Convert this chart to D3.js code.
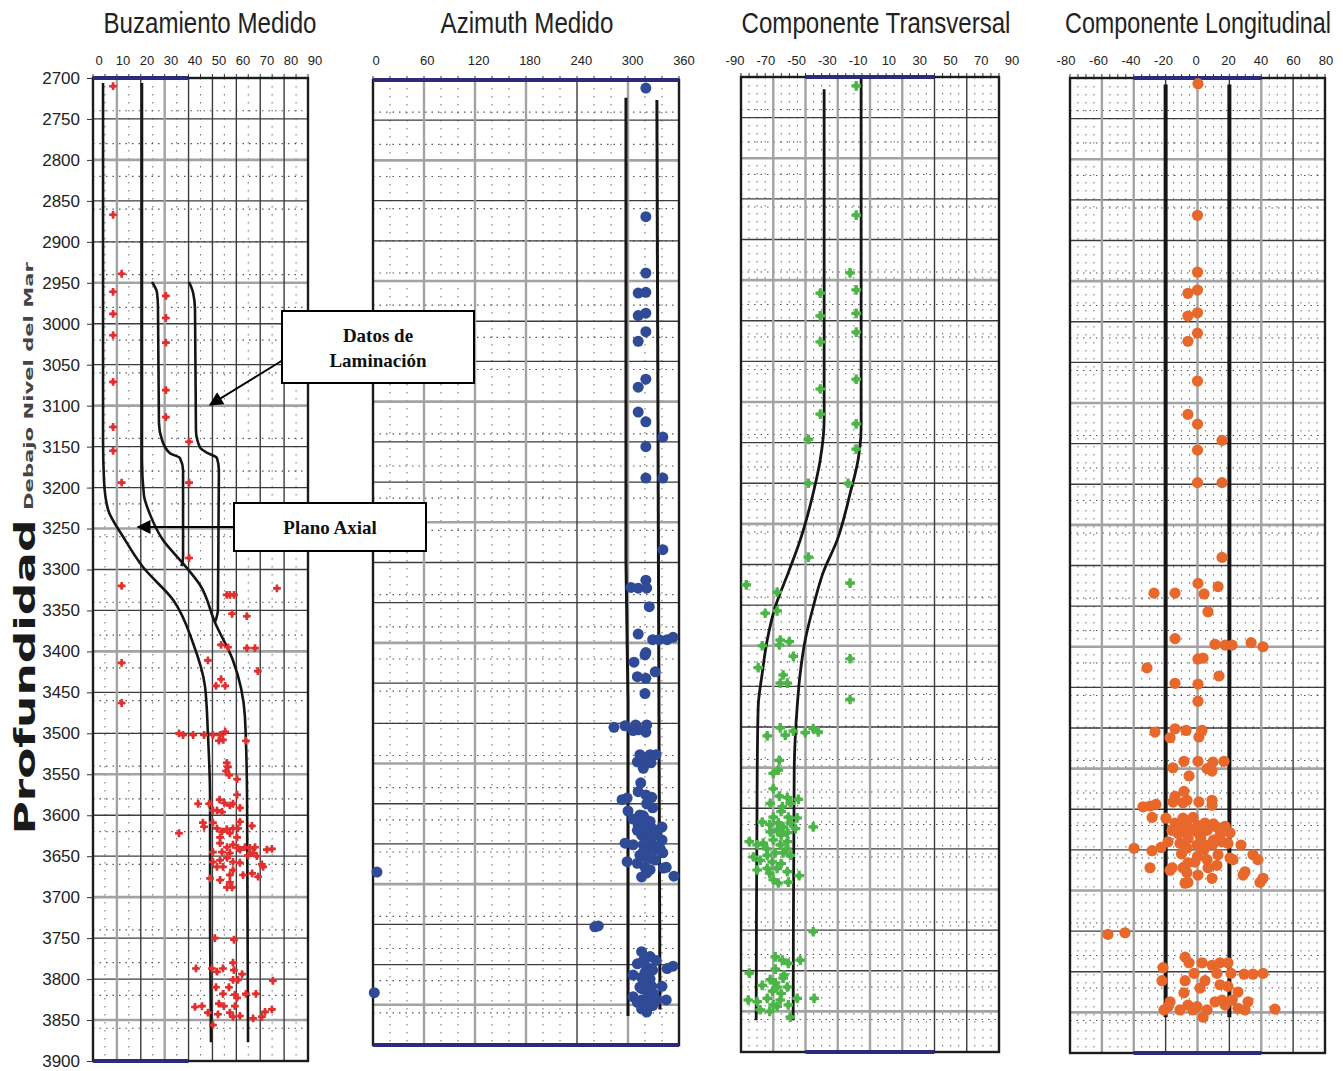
<!DOCTYPE html>
<html>
<head>
<meta charset="utf-8">
<title>Buzamiento, Azimuth y Componentes</title>
<script src="https://cdnjs.cloudflare.com/ajax/libs/d3/7.8.5/d3.min.js"></script>
<style>
    body { margin: 0; background: #fff; }
    svg { display: block; }
    .title { font-family: "Liberation Sans Narrow", "Arial Narrow", "Liberation Sans", sans-serif; font-size: 29px; fill: #222; }
    .toplab { font-family: "Liberation Sans Narrow", "Arial Narrow", "Liberation Sans", sans-serif; font-size: 13px; fill: #222; }
    .depth text { font-family: "Liberation Sans", Arial, sans-serif; font-size: 17px; fill: #222; }
    .note { font-family: "Liberation Serif", "DejaVu Serif", serif; font-weight: bold; font-size: 19px; fill: #111; }
</style>
</head>
<body>
<div id="chart"></div>
<script>
// depth (m) and value pairs
var depthTicks = d3.range(2700, 3901, 50);

var buzTicks = [0, 10, 20, 30, 40, 50, 60, 70, 80, 90];
var azTicks = [0, 60, 120, 180, 240, 300, 360];
var transTicks = [-90, -70, -50, -30, -10, 10, 30, 50, 70, 90];
var longTicks = [-80, -60, -40, -20, 0, 20, 40, 60, 80];

var buzPoints = [
    [2710,8.4],[2867,8.4],[2939,12],[2961,8.4],[2988,8.4],[3014,8.4],[3071,8.4],[3126,8.4],[3155,8.4],[3194,12],
    [2966,30.5],[2993,30.5],[3023,30.5],[3081,30.5],[3114,30.5],
    [3144,40.2],[3194,40.2],[3286,40.2],
    [3320,12],[3323,77],[3331,56],[3331,57.3],[3331,59],[3354,58.2],[3357,64.4],
    [3392,53.6],[3395,56.5],[3396,64.4],[3396,67.8],[3411,48.1],[3414,12],[3424,69],[3434,53.6],[3442,51.5],[3442,55.3],[3463,12],
    [3500,36],[3502,37.7],[3502,41.9],[3502,46.5],[3502,50.2],[3502,53.2],[3498,55.3],[3509,52.7],[3508,54.4],[3509,64],
    [3536,56],[3541,56.5],[3546,55.7],[3551,57],[3556,60.3],[3575,60.3],
    [3586,44],[3586,48.6],[3581,53],[3585,55],[3588,57.3],[3586,58.6],[3591,61.5],[3594,51.9],[3596,54],[3594,50.2],
    [3609,46],[3614,46.5],[3609,50.2],[3616,51.9],[3620,54],[3617,56],[3616,58.6],[3616,60.7],[3608,61.5],[3613,66.5],
    [3622,36],[3627,53.2],[3622,57.3],[3627,60.3],
    [3634,53.2],[3639,56.1],[3636,58.6],[3640,60.7],[3639,63.6],[3640,65.7],[3639,67.8],[3642,72.8],[3641,74.9],
    [3645,50.2],[3645,54],[3646,57.3],[3642,61.5],[3646,67],[3649,64.9],[3650,68.6],[3660,70.7],[3663,71.2],
    [3655,53.2],[3652,56.1],[3657,58.6],[3657,50.2],[3663,51.9],[3663,54.4],[3667,58.6],[3658,61.5],[3673,57.3],
    [3679,53.2],[3682,57.3],[3688,58.2],[3688,56.1],[3673,62.8],[3671,66.6],[3675,69.1],[3677,49],
    [3750,51],[3752,59],
    [3787,43.1],[3787,49.8],[3791,51.9],[3787,54.4],[3780,58.6],[3789,59],[3794,62.4],[3801,58.6],[3801,60.7],
    [3810,51.5],[3810,56.9],[3818,54.4],[3819,59.4],[3823,60.3],[3818,64],[3818,68.2],[3802,75.3],
    [3834,42.7],[3833,45.6],[3830,52.7],[3833,54.8],[3833,59.4],[3841,48.1],[3843,52.3],[3841,57.3],[3846,58.6],
    [3845,61.5],[3848,67],[3846,70.7],[3840,72],[3837,74.9],[3856,50.2]
];
var buzAxialLeft = [[2706,4.2],[3142,4.2],[3191,4.6],[3227,6.3],[3260,12.6],[3297,20.9],[3337,33.5],[3390,41.9],[3443,46.9],[3500,48.1],[3581,49],[3728,49],[3877,49.4]];
var buzAxialRight = [[2706,20.5],[3166,20.5],[3209,21.3],[3233,23.9],[3264,29.3],[3292,37.5],[3319,44.8],[3365,51.1],[3411,58.6],[3480,63.6],[3581,64.5],[3877,64.9]];
var buzLamLeft = [[2949,24.7],[2962,26.8],[2980,27.2],[3121,27.6],[3142,28.9],[3158,32.2],[3164,36.4],[3179,37.7],[3286,37.7],[3296,37]];
var buzLamRight = [[2949,40.2],[2962,41.9],[2983,42.7],[3130,43.1],[3151,44.8],[3158,48.1],[3164,51.9],[3179,52.7],[3349,52.3],[3364,51.1]];

var azPoints = [
    [2710,321],[2870,321],[2940,321],[2965,312],[2964,321],[2993,312],[2990,321],[3013,321],[3025,312],[3072,321],
    [3082,312],[3113,312],[3125,321],[3144,341],[3156,321],[3195,321],[3195,341],[3284,341],
    [3322,321],[3332,322],[3331,303.5],[3332,312],[3355,325],[3389,312],[3396,329],[3396,336.5],[3396,346],[3393,353],
    [3412,321],[3415,320],[3424,307],[3436,332],[3442,311],[3444,321],[3463,320],
    [3505,283.5],[3503,296.5],[3502,309],[3508,312],[3502,322],[3511,321],[3509,306],
    [3539,314],[3539,326],[3539,333],[3548,311],[3548,321],[3556,318],[3549,327],
    [3574,315],[3585,312],[3589,321],[3592,328],[3595,293],[3593,299],
    [3609,300],[3614,314],[3619,320],[3622,326],[3627,312],[3631,322],[3631,329],[3629,340],[3639,316],[3644,326],
    [3649,296.5],[3651,306],[3651,318],[3651,329],[3645,340],[3657,322],[3657,332],[3661,341],[3664,314],[3668,326],
    [3672,299],[3674,311],[3679,320],[3682,326],[3680,342],[3679,345],[3691,316],[3690,354],[3619,306],[3633,311],
    [3637,334],[3656,338],[3615,318],[3625,318],[3635,322],[3640,330],[3648,322],[3660,318],[3666,320],[3670,332],
    [3686,322],[3600,322],[3605,329],
    [3685,4.7],[3753,261],[3752,265],
    [3784,316],[3790,326],[3799,311],[3803,322],[3807,329],[3805,346],[3802,353],[3813,306],[3816,316],[3818,326],
    [3824,322],[3828,314],[3827,328],[3827,340],[3840,306],[3844,316],[3840,326],[3844,334],[3844,345],[3848,318],
    [3851,329],[3859,322],[3847,311],[3795,318],[3810,320],[3820,318],[3833,322],[3836,330],[3830,316],[3855,316],
    [3795,333],
    [3835,1.5]
];
var azLeft = [[2722,297.6],[3297,297.6],[3471,300],[3864,300]];
var azRight = [[2725,334],[3856,337.6]];

var transPoints = [
    [2711,-9.6],[2870,-9.6],[2941,-13.9],[2962,-9.6],[2966,-34.7],[2991,-9.6],[2994,-34.7],[3014,-9.6],[3026,-34.7],
    [3072,-9.6],[3084,-34.7],[3115,-34.7],[3127,-9.6],[3146,-43],[3158,-9.6],[3200,-43],[3200,-15.3],[3291,-43],
    [3325,-86.3],[3323,-13.9],[3334,-64.8],[3360,-73.1],[3357,-64.8],[3400,-75.2],[3393,-62.6],[3399,-63.3],
    [3395,-56.3],[3413,-53.5],[3416,-13.9],[3427,-78],[3436,-60.6],[3446,-62.6],[3446,-57.7],[3466,-13.9],
    [3511,-71.7],[3501,-62.6],[3510,-59.1],[3505,-53.5],[3507,-45.2],[3502,-39.6],[3506,-36.1],
    [3541,-63.3],[3553,-64],[3557,-67.5],[3576,-67.5],[3585,-63.3],[3587,-57.7],[3594,-55.6],[3589,-50],[3594,-69.6],[3598,-61.2],
    [3611,-67.5],[3611,-57],[3612,-50.8],[3617,-75.2],[3618,-64],[3623,-60.6],[3618,-55.6],[3623,-39.6],[3629,-69.6],
    [3627,-64.8],[3630,-57.7],[3641,-84.2],[3645,-78.7],[3643,-74.5],[3639,-67.5],[3645,-62.6],[3641,-57.7],[3660,-81.4],
    [3658,-71.7],[3655,-66.1],[3655,-60.6],[3658,-55.6],[3676,-78.7],[3674,-71.7],[3674,-64.8],[3678,-57.7],[3683,-49.4],
    [3688,-67.5],[3691,-57],[3692,-64],[3664,-76.6],[3666,-68.2],
    [3620,-70],[3633,-62],[3650,-72],[3650,-58],[3668,-62],[3680,-70],[3625,-52],[3604,-62],
    [3752,-39.6],
    [3783,-66.1],[3787,-61.2],[3791,-57],[3787,-48.7],[3803,-84.2],[3818,-75.2],[3811,-69.6],[3820,-64.8],[3809,-60.6],
    [3820,-57.7],[3836,-84.9],[3838,-78.7],[3834,-71.7],[3842,-67.5],[3836,-62.6],[3842,-57],[3834,-50.8],[3834,-39],
    [3848,-76.6],[3844,-64.8],[3857,-55.6],[3798,-66],[3805,-60],[3825,-68],[3828,-62],[3815,-66],[3850,-70]
];
var transLeft = [[2715,-32],[3122,-32],[3171,-34.7],[3212,-39.6],[3270,-48.7],[3310,-57],[3352,-66.1],[3393,-71.7],[3434,-75.2],[3475,-78],[3557,-78.7],[3861,-79.4]];
var transRight = [[2702,-6.2],[3131,-6.2],[3171,-8.3],[3212,-13.8],[3270,-22.9],[3310,-32.7],[3352,-39.6],[3393,-45.2],[3434,-48.7],[3475,-50.8],[3557,-52.9],[3861,-53.6]];

var longPoints = [
    [2707,0.3],[2869,0],[2939,0],[2965,-6],[2961,0],[2993,-6],[2989,0],[3014,0],[3024,-6],[3073,0],[3114,-6],[3126,0],
    [3146,15.4],[3158,0],[3198,0],[3198,15.4],[3290,15.4],
    [3322,0.3],[3326,12.9],[3334,-27.3],[3334,-14.1],[3335,4.1],[3357,6.6],[3390,-14.1],[3397,11],[3398,17.3],[3398,21.7],
    [3395,33.6],[3400,41.1],[3415,0.3],[3414,3.5],[3426,-31.7],[3436,13.5],[3445,-14.1],[3446,0.3],[3467,0.3],
    [3505,-26.7],[3501,-14.1],[3512,-17.2],[3503,-7.2],[3503,2.8],[3511,0.9],
    [3541,-8.5],[3541,0.3],[3542,9.7],[3541,16.6],[3549,-15.4],[3550,6],[3553,9.1],[3559,-5.3],
    [3578,-8.5],[3584,-14.1],[3591,-15.4],[3592,-9.1],[3589,-6.6],[3591,0.9],[3589,9.1],[3595,9.1],
    [3597,-34.2],[3596,-29.8],[3594,-26],[3610,-28.5],
    [3611,-19.8],[3617,-14.1],[3611,-9.1],[3610,-2.8],[3626,-16],[3622,-11],[3620,-6.6],[3620,0.3],[3617,4.7],[3621,7.9],
    [3622,12.2],[3621,17.3],[3629,20.4],[3626,6],[3628,-0.3],[3632,14.1],[3629,-6.6],
    [3648,-39.8],[3651,-28.5],[3647,-22.9],[3640,-18.5],[3642,-11],[3636,-5.9],[3648,-6.6],[3644,-0.3],[3644,6],[3643,9.7],
    [3640,15.4],[3642,19.1],[3644,27.3],
    [3656,34.8],[3662,37.9],[3660,20.4],[3662,22.3],[3656,12.9],[3662,6],[3665,-1.6],[3666,-6],[3672,-9.1],[3675,-17.2],
    [3672,-15.9],[3672,-29.8],[3672,6.6],[3681,0.3],[3685,9.1],[3678,-6.6],[3691,-7.8],[3690,-6],[3681,28.6],[3677,29.8],
    [3690,39.2],[3685,41.1],[3669,12.2],
    [3630,-12],[3635,2],[3638,10],[3655,-10],[3658,0],[3650,4],[3625,-4],[3618,10],
    [3754,-56.2],[3752,-45.5],
    [3782,-7.8],[3789,-5.3],[3789,2.8],[3792,9.1],[3789,14.1],[3789,19.1],[3795,-21.6],[3802,12.2],[3802,21],[3803,29.2],
    [3803,34.8],[3802,41.1],[3811,-22.3],[3811,-7.8],[3802,-2.2],[3811,4.7],[3816,14.1],[3818,19.1],[3820,1.6],[3825,25.4],
    [3826,-8.5],[3837,-17.2],[3843,-18.5],[3847,-11],[3841,-6],[3843,-0.3],[3847,6],[3837,11],[3835,15.4],[3835,21.7],
    [3845,25.4],[3837,31.7],[3847,29.8],[3846,48.6],[3847,-21],[3856,3.5],[3841,17.3],[3847,-2.8]
];
var longLeft = [[2708,-20],[3856,-20]];
var longRight = [[2708,20],[3856,20]];

// panel layout
var panels = [
    {title: "Buzamiento Medido", titleX: 210, titleW: 213, left: 93, right: 308, top: 78, bottom: 1061,
     domain: [0, 90], major: d3.range(0, 91, 10), minor: 5, tickStep: 5, grayLines: [10, 30],
     ticks: buzTicks, labelRange: [99, 315], band: [0, 40],
     points: buzPoints, shape: "cross", size: 34, dot: 2.2, color: "#e3302f",
     lines: [buzAxialLeft, buzAxialRight, buzLamLeft, buzLamRight], lineWidth: 2.6, curve: d3.curveMonotoneY},
    {title: "Azimuth Medido", titleX: 527, titleW: 173, left: 373, right: 679, top: 80, bottom: 1045,
     domain: [0, 360], major: d3.range(0, 361, 60), minor: 20, tickStep: 20, grayLines: [60, 120, 180, 300],
     ticks: azTicks, labelRange: [376, 684], band: [0, 360],
     points: azPoints, shape: "circle", size: 5.5, color: "#2f4a96",
     lines: [azLeft, azRight], lineWidth: 3, curve: d3.curveLinear},
    {title: "Componente Transversal", titleX: 876, titleW: 269, left: 741, right: 999, top: 77, bottom: 1052,
     domain: [-90, 90], major: d3.range(-90, 90.1, 22.5), minor: 5.625, tickStep: 5.625, grayLines: [-67.5, -45, -22.5, 0, 22.5],
     ticks: transTicks, labelRange: [735, 1012], band: [-45, 45],
     points: transPoints, shape: "cross", size: 52, dot: 3, color: "#4cb548",
     lines: [transLeft, transRight], lineWidth: 2.8, curve: d3.curveMonotoneY},
    {title: "Componente Longitudinal", titleX: 1198, titleW: 266, left: 1070, right: 1325, top: 78, bottom: 1053,
     domain: [-80, 80], major: d3.range(-80, 81, 20), minor: 5, tickStep: 5, grayLines: [-60, -40, 0, 40],
     ticks: longTicks, labelRange: [1066, 1326], band: [-40, 40],
     points: longPoints, shape: "circle", size: 5.6, color: "#e8672b",
     lines: [longLeft, longRight], lineWidth: 4, curve: d3.curveLinear}
];

var svg = d3.select("#chart")
  .append("svg")
    .attr("width", 1343)
    .attr("height", 1071);

svg.append("defs").append("marker")
    .attr("id", "arrow")
    .attr("viewBox", "0 0 10 10")
    .attr("refX", 9).attr("refY", 5)
    .attr("markerWidth", 20).attr("markerHeight", 14)
    .attr("markerUnits", "userSpaceOnUse")
    .attr("orient", "auto")
  .append("path")
    .attr("d", "M0,0 L10,5 L0,10 Z")
    .attr("fill", "#000");

// squeeze a text horizontally to a given width
function fitWidth(sel, w) {
    var natural = sel.node().getComputedTextLength();
    var k = natural > 0 ? w / natural : 1;
    sel.attr("transform", sel.attr("transform") + " scale(" + k + ",1)");
}

var scales = [];

panels.forEach(function(p, i) {
    var g = svg.append("g");
    var x = d3.scaleLinear().domain(p.domain).range([p.left, p.right]);
    var y = d3.scaleLinear().domain([2700, 3900]).range([p.top, p.bottom]);
    var xl = d3.scaleLinear().domain(p.domain).range(p.labelRange);
    scales.push({x: x, y: y});

    var isMajor = function(v) {
        return p.major.some(function(m) { return Math.abs(m - v) < 0.01; });
    };

    // dotted minor grid
    var minorX = d3.range(p.domain[0], p.domain[1] + 0.01, p.minor).filter(function(v) { return !isMajor(v); });
    g.selectAll(".mx").data(minorX).enter().append("line")
        .attr("x1", function(d) { return x(d); }).attr("x2", function(d) { return x(d); })
        .attr("y1", p.top).attr("y2", p.bottom)
        .attr("stroke", "#7a7a7a").attr("stroke-width", 1.1)
        .attr("stroke-dasharray", "1.5,6.5");
    g.selectAll(".my").data(d3.range(2740, 3900, 40)).enter().append("line")
        .attr("x1", p.left).attr("x2", p.right)
        .attr("y1", function(d) { return y(d); }).attr("y2", function(d) { return y(d); })
        .attr("stroke", "#555").attr("stroke-width", 1.2)
        .attr("stroke-dasharray", "1.5,5");

    // major grid
    g.selectAll(".gy").data(d3.range(2750, 3900, 50)).enter().append("line")
        .attr("x1", p.left).attr("x2", p.right)
        .attr("y1", function(d) { return y(d); }).attr("y2", function(d) { return y(d); })
        .attr("stroke", function(d) { return (d - 2800) % 150 === 0 ? "#a3a3a3" : "#3c3c3c"; })
        .attr("stroke-width", function(d) { return (d - 2800) % 150 === 0 ? 2.6 : 1.3; });
    g.selectAll(".gx").data(p.major.slice(1, -1)).enter().append("line")
        .attr("x1", function(d) { return x(d); }).attr("x2", function(d) { return x(d); })
        .attr("y1", p.top).attr("y2", p.bottom)
        .attr("stroke", function(d) { return p.grayLines.indexOf(d) >= 0 ? "#a3a3a3" : "#3c3c3c"; })
        .attr("stroke-width", function(d) { return p.grayLines.indexOf(d) >= 0 ? 2.4 : 1.4; });

    // small ticks above the frame
    g.selectAll(".tk").data(d3.range(p.domain[0], p.domain[1] + 0.01, p.tickStep)).enter().append("line")
        .attr("x1", function(d) { return x(d); }).attr("x2", function(d) { return x(d); })
        .attr("y1", p.top - 4).attr("y2", p.top)
        .attr("stroke", "#333").attr("stroke-width", 1);

    // frame
    g.append("rect")
        .attr("x", p.left).attr("y", p.top)
        .attr("width", p.right - p.left).attr("height", p.bottom - p.top)
        .attr("fill", "none").attr("stroke", "#1c1c1c").attr("stroke-width", 2.4);

    // blue band on top and bottom edges
    [p.top, p.bottom].forEach(function(yy) {
        g.append("line")
            .attr("x1", x(p.band[0])).attr("x2", x(p.band[1]))
            .attr("y1", yy).attr("y2", yy)
            .attr("stroke", "#2c2a7c").attr("stroke-width", 4);
    });

    // top labels
    g.selectAll(".tl").data(p.ticks).enter().append("text")
        .attr("class", "toplab")
        .attr("x", function(d) { return xl(d); })
        .attr("y", 65)
        .attr("text-anchor", "middle")
        .text(function(d) { return d; });

    // title
    var t = g.append("text")
        .attr("class", "title")
        .attr("transform", "translate(" + p.titleX + ",33)")
        .attr("text-anchor", "middle")
        .text(p.title);
    fitWidth(t, p.titleW);

    // envelope lines
    var line = d3.line()
        .x(function(d) { return x(d[1]); })
        .y(function(d) { return y(d[0]); })
        .curve(p.curve);
    g.selectAll(".env").data(p.lines).enter().append("path")
        .attr("d", line)
        .attr("fill", "none")
        .attr("stroke", "#151515")
        .attr("stroke-width", p.lineWidth);

    // points
    if (p.shape === "circle") {
        g.selectAll(".pt").data(p.points).enter().append("circle")
            .attr("cx", function(d) { return x(d[1]); })
            .attr("cy", function(d) { return y(d[0]); })
            .attr("r", p.size)
            .attr("fill", p.color);
    } else {
        var sym = d3.symbol().type(d3.symbolCross).size(p.size);
        var pts = g.selectAll(".pt").data(p.points).enter().append("g")
            .attr("transform", function(d) { return "translate(" + x(d[1]) + "," + y(d[0]) + ")"; });
        pts.append("path").attr("d", sym).attr("fill", p.color);
        pts.append("circle").attr("r", p.dot).attr("fill", p.color);
    }
});

// depth axis on the first panel
var y0 = scales[0].y;
var depthAxis = svg.append("g")
    .attr("class", "depth")
    .attr("transform", "translate(" + panels[0].left + ",0)")
    .call(d3.axisLeft(y0).tickValues(depthTicks).tickFormat(d3.format("d")).tickSize(6).tickPadding(7));
depthAxis.select(".domain").remove();
depthAxis.selectAll("line").attr("stroke", "#333");

// axis title
svg.append("text")
    .attr("transform", "translate(35,677) rotate(-90)")
    .attr("text-anchor", "middle")
    .attr("textLength", 315)
    .attr("lengthAdjust", "spacingAndGlyphs")
    .style("font-family", "'DejaVu Sans', sans-serif")
    .style("font-weight", "bold")
    .style("font-size", "28px")
    .style("fill", "#1a1a1a")
    .text("Profundidad");
svg.append("text")
    .attr("transform", "translate(33,386) rotate(-90)")
    .attr("text-anchor", "middle")
    .attr("textLength", 248)
    .attr("lengthAdjust", "spacingAndGlyphs")
    .style("font-family", "'DejaVu Sans', sans-serif")
    .style("font-weight", "bold")
    .style("font-size", "12px")
    .style("fill", "#444")
    .text("Debajo Nivel del Mar");

// annotation boxes
var sx = scales[0].x;
function noteBox(x0, yTop, w, h, lines, tip, from) {
    svg.append("line")
        .attr("x1", from[0]).attr("y1", from[1])
        .attr("x2", sx(tip[1])).attr("y2", y0(tip[0]))
        .attr("stroke", "#000").attr("stroke-width", 2)
        .attr("marker-end", "url(#arrow)");
    svg.append("rect")
        .attr("x", x0).attr("y", yTop).attr("width", w).attr("height", h)
        .attr("fill", "#fff").attr("stroke", "#000").attr("stroke-width", 2);
    lines.forEach(function(t, i) {
        svg.append("text")
            .attr("class", "note")
            .attr("x", x0 + w / 2)
            .attr("y", yTop + h / 2 + 7 + (i - (lines.length - 1) / 2) * 25)
            .attr("text-anchor", "middle")
            .text(t);
    });
}
noteBox(282, 311, 192, 72, ["Datos de", "Laminación"], [3099, 49], [283, 360]);
noteBox(234, 503, 192, 48, ["Plano Axial"], [3248, 18.8], [234, 527]);
</script>
</body>
</html>
